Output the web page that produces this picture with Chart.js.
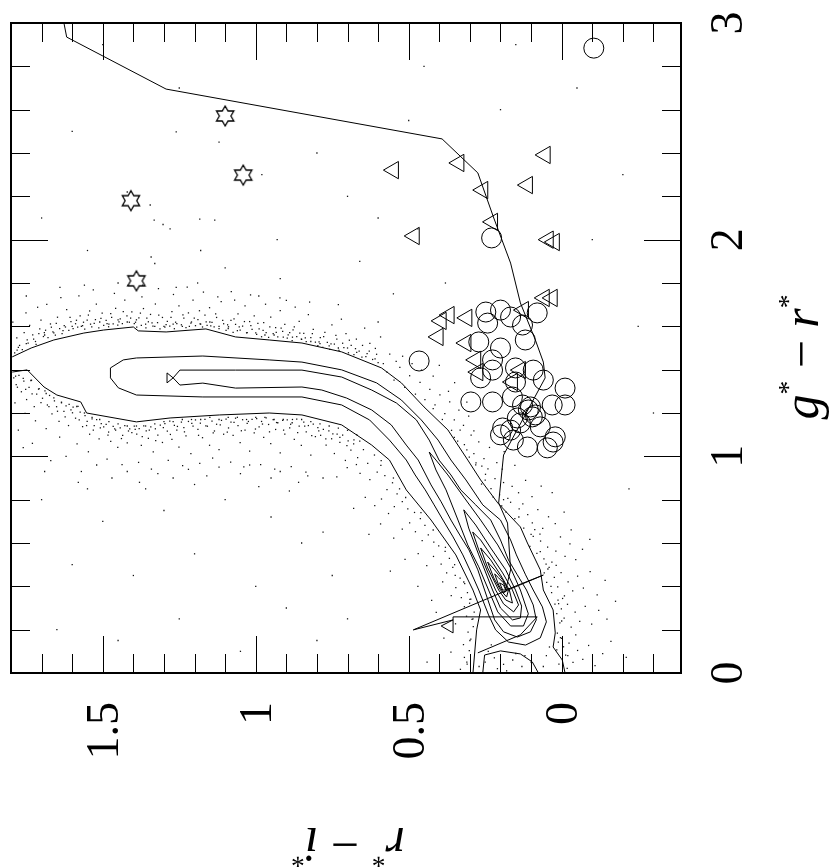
<!DOCTYPE html>
<html>
<head>
<meta charset="utf-8">
<script src="https://cdn.jsdelivr.net/npm/chart.js@4.4.1/dist/chart.umd.min.js"></script>
<style>
  html, body { margin: 0; padding: 0; background: #fff; }
  canvas { display: block; }
</style>
</head>
<body>
<canvas id="cmd" width="833" height="867"></canvas>
<script>
// r*-i* runs along x (reversed), g*-r* along y; the whole diagram is turned on its side
const riLabels = [1.5, 1, 0.5, 0];
const grLabels = [0, 1, 2, 3];

// stellar locus: outermost density contour, two open edges plus the patch at the bottom
const outerUpper = [[1.796,1.459],[1.734,1.5],[1.66,1.537],[1.562,1.569],[1.497,1.583],[1.4,1.597],[1.384,1.579],[1.293,1.574],[1.163,1.588],[1.066,1.551],[0.956,1.537],[0.849,1.523],[0.719,1.482],[0.589,1.408],[0.524,1.339],[0.45,1.228],[0.372,1.122],[0.307,0.983],[0.265,0.891],[0.209,0.785],[0.135,0.674],[0.112,0.6],[0.07,0.476],[0.06,0.383],[0.028,0.291],[0.021,0.185],[0.028,0.12],[-0.002,0.06],[-0.011,0]];
const outerLower = [[1.796,1.389],[1.747,1.399],[1.692,1.32],[1.65,1.283],[1.572,1.251],[1.553,1.2],[1.39,1.159],[1.28,1.177],[1.118,1.191],[0.956,1.2],[0.849,1.191],[0.719,1.145],[0.621,1.052],[0.563,0.983],[0.508,0.845],[0.427,0.706],[0.346,0.545],[0.29,0.383],[0.265,0.291],[0.278,0.199],[0.29,0]];
const basePatch = [[0.258,0],[0.252,0.083],[0.2,0.102],[0.135,0.088],[0.096,0.051],[0.076,0]];

// inner contours, closed loops
const level2 = [[1.475,1.408],[1.433,1.445],[1.39,1.454],[1.173,1.463],[0.956,1.445],[0.849,1.435],[0.719,1.399],[0.605,1.339],[0.524,1.26],[0.459,1.168],[0.404,1.075],[0.362,0.983],[0.313,0.891],[0.258,0.776],[0.2,0.706],[0.167,0.614],[0.148,0.545],[0.118,0.453],[0.093,0.383],[0.063,0.305],[0.05,0.236],[0.07,0.162],[0.118,0.129],[0.174,0.143],[0.216,0.199],[0.239,0.268],[0.271,0.383],[0.297,0.466],[0.323,0.545],[0.355,0.628],[0.388,0.706],[0.417,0.776],[0.446,0.845],[0.479,0.914],[0.508,0.983],[0.563,1.075],[0.628,1.168],[0.719,1.237],[0.849,1.274],[1.173,1.274],[1.39,1.283],[1.449,1.316],[1.475,1.362]];
const level3 = [[1.248,1.398],[1.066,1.398],[0.849,1.398],[0.719,1.366],[0.621,1.306],[0.54,1.246],[0.475,1.168],[0.433,1.075],[0.401,0.983],[0.362,0.914],[0.33,0.845],[0.281,0.776],[0.232,0.706],[0.2,0.614],[0.174,0.522],[0.145,0.453],[0.115,0.383],[0.093,0.314],[0.083,0.245],[0.102,0.19],[0.145,0.166],[0.19,0.19],[0.219,0.245],[0.252,0.383],[0.274,0.476],[0.303,0.568],[0.333,0.637],[0.362,0.706],[0.394,0.79],[0.427,0.868],[0.469,0.983],[0.508,1.052],[0.557,1.145],[0.621,1.214],[0.703,1.269],[0.784,1.306],[0.849,1.32],[1.066,1.315],[1.173,1.338],[1.248,1.329],[1.27,1.362],[1.29,1.339],[1.29,1.385],[1.27,1.362]];
const level4 = [[0.433,1.02],[0.411,0.937],[0.378,0.845],[0.339,0.706],[0.307,0.591],[0.271,0.49],[0.239,0.383],[0.209,0.282],[0.167,0.217],[0.125,0.217],[0.109,0.273],[0.135,0.383],[0.167,0.485],[0.209,0.591],[0.265,0.706],[0.32,0.812],[0.372,0.914],[0.411,0.983]];
const level5 = [[0.32,0.753],[0.304,0.669],[0.271,0.545],[0.226,0.383],[0.2,0.3],[0.161,0.245],[0.135,0.254],[0.131,0.309],[0.151,0.383],[0.183,0.476],[0.232,0.577],[0.281,0.683]];
const level6 = [[0.291,0.651],[0.271,0.568],[0.242,0.466],[0.216,0.383],[0.19,0.319],[0.157,0.282],[0.141,0.314],[0.161,0.383],[0.193,0.462],[0.232,0.545],[0.265,0.614]];
const level7 = [[0.265,0.577],[0.242,0.485],[0.206,0.383],[0.183,0.337],[0.161,0.323],[0.171,0.383],[0.2,0.453],[0.232,0.522]];
const level8 = [[0.242,0.512],[0.222,0.439],[0.2,0.383],[0.18,0.351],[0.174,0.383],[0.193,0.43],[0.219,0.476]];
const level9 = [[0.219,0.457],[0.206,0.406],[0.19,0.37],[0.18,0.379],[0.19,0.416],[0.206,0.439]];
const level10 = [[0.203,0.416],[0.193,0.383],[0.183,0.383],[0.19,0.406]];

// model track
const track = [[1.627,3.0],[1.618,2.935],[1.293,2.695],[0.391,2.465],[0.274,2.308],[0.222,2.1],[0.167,1.892],[0.135,1.708],[0.086,1.537],[0.06,1.435],[0.054,1.362],[0.19,1.006],[0.206,0.785],[0.177,0.692],[0.167,0.476],[0.183,0.383],[0.06,0.452],[0.485,0.199],[0.355,0.245],[0.394,0.217],[0.355,0.185],[0.355,0.259],[0.08,0.259],[0.135,0.176],[0.274,0.093]];

// candidate objects
const triangles = [[0.55,2.321],[0.336,2.354],[0.054,2.391],[0.258,2.229],[0.112,2.252],[0.226,2.082],[0.482,2.017],[0.044,2.0],[0.024,1.989],[0.057,1.731],[0.031,1.731],[0.125,1.675],[0.394,1.625],[0.368,1.652],[0.31,1.639],[0.404,1.551],[0.313,1.523],[0.281,1.445],[0.274,1.389],[0.135,1.398],[0.161,1.343]];
const circles = [[-0.105,2.884],[0.466,1.44],[0.229,2.008],[0.248,1.666],[0.2,1.675],[0.167,1.643],[0.128,1.606],[0.08,1.662],[0.119,1.537],[0.242,1.615],[0.271,1.528],[0.2,1.5],[0.226,1.445],[0.226,1.398],[0.265,1.362],[0.151,1.408],[0.151,1.343],[0.093,1.398],[0.06,1.352],[0.297,1.251],[0.226,1.251],[0.161,1.274],[0.102,1.228],[0.096,1.182],[0.031,1.237],[-0.011,1.315],[-0.011,1.237],[0.145,1.177],[0.193,1.131],[0.135,1.154],[0.07,1.136],[0.021,1.09],[0.028,1.066],[0.2,1.099],[0.158,1.075],[0.112,1.043],[0.047,1.039],[0.109,1.214],[0.128,1.237],[0.086,1.191],[0.167,1.121]];
const stars = [[1.1,2.571],[1.041,2.298],[1.408,2.18],[1.39,1.81]];

// field stars above the blue edge of the locus
const dotsUpper = [
  [1.78,1.49],[1.75,1.52],[1.72,1.53],[1.69,1.56],[1.66,1.57],[1.63,1.58],[1.6,1.6],[1.57,1.6],[1.54,1.61],[1.51,1.62],[1.48,1.61],[1.45,1.63],[1.42,1.62],[1.39,1.63],[1.36,1.61],[1.33,1.6],[1.3,1.6],[1.27,1.61],[1.24,1.6],[1.21,1.62],[1.18,1.61],[1.15,1.62],[1.12,1.6],[1.09,1.59],[1.06,1.58],[1.03,1.57],[1.0,1.57],[0.97,1.56],[0.94,1.56],[0.91,1.55],[0.88,1.55],[0.85,1.54],[0.82,1.53],[0.79,1.52],[0.76,1.51],[0.73,1.5],[0.7,1.5],[0.67,1.48],[0.64,1.46],[0.61,1.45],
  [1.788,1.478],[1.772,1.512],[1.781,1.547],[1.763,1.493],[1.757,1.571],[1.744,1.523],[1.739,1.604],[1.726,1.541],[1.718,1.517],[1.709,1.566],[1.702,1.629],[1.794,1.619],[1.751,1.662],[1.713,1.688],
  [1.694,1.553],[1.687,1.582],[1.679,1.548],[1.671,1.611],[1.663,1.574],[1.655,1.559],[1.648,1.642],[1.641,1.589],[1.633,1.566],[1.626,1.603],[1.618,1.677],[1.611,1.581],[1.604,1.622],[1.683,1.701],[1.637,1.733],
  [1.597,1.589],[1.589,1.612],[1.582,1.596],[1.574,1.648],[1.566,1.603],[1.559,1.587],[1.551,1.629],[1.543,1.671],[1.536,1.598],[1.528,1.614],[1.521,1.702],[1.513,1.593],[1.506,1.637],[1.578,1.741],[1.531,1.768],
  [1.497,1.604],[1.489,1.627],[1.481,1.598],[1.474,1.659],[1.466,1.611],[1.458,1.683],[1.451,1.606],[1.443,1.634],[1.436,1.612],[1.428,1.721],[1.421,1.648],[1.413,1.619],[1.405,1.667],[1.462,1.752],[1.418,1.789],
  [1.397,1.612],[1.389,1.596],[1.382,1.639],[1.374,1.604],[1.367,1.682],[1.359,1.593],[1.351,1.621],[1.344,1.655],[1.336,1.601],[1.328,1.703],[1.321,1.617],[1.313,1.588],[1.305,1.641],[1.372,1.736],[1.318,1.774],
  [1.297,1.596],[1.289,1.623],[1.281,1.601],[1.274,1.668],[1.266,1.589],[1.258,1.612],[1.251,1.694],[1.243,1.607],[1.235,1.638],[1.228,1.594],[1.22,1.662],[1.212,1.615],[1.205,1.721],[1.269,1.747],[1.224,1.781],
  [1.197,1.603],[1.189,1.631],[1.182,1.611],[1.174,1.597],[1.166,1.652],[1.159,1.604],[1.151,1.686],[1.143,1.618],[1.136,1.598],[1.128,1.641],[1.12,1.589],[1.113,1.714],[1.105,1.612],[1.171,1.758],[1.124,1.736],
  [1.097,1.581],[1.089,1.598],[1.081,1.627],[1.074,1.572],[1.066,1.609],[1.058,1.658],[1.051,1.583],[1.043,1.601],[1.035,1.694],[1.028,1.571],[1.02,1.622],[1.012,1.586],[1.005,1.648],[1.069,1.721],[1.017,1.745],
  [0.997,1.563],[0.989,1.588],[0.981,1.552],[0.974,1.617],[0.966,1.571],[0.958,1.549],[0.951,1.643],[0.943,1.566],[0.935,1.594],[0.928,1.551],[0.92,1.672],[0.912,1.577],[0.905,1.609],[0.968,1.702],[0.921,1.731],
  [0.897,1.546],[0.889,1.571],[0.881,1.534],[0.874,1.598],[0.866,1.552],[0.858,1.623],[0.851,1.541],[0.843,1.567],[0.835,1.529],[0.828,1.654],[0.82,1.548],[0.812,1.586],[0.805,1.527],[0.871,1.689],[0.824,1.712],
  [0.797,1.511],[0.789,1.548],[0.781,1.503],[0.774,1.572],[0.766,1.526],[0.758,1.494],[0.751,1.607],[0.743,1.518],[0.735,1.541],[0.728,1.489],[0.72,1.633],[0.712,1.502],[0.705,1.566],
  [0.697,1.478],[0.688,1.512],[0.679,1.469],[0.671,1.541],[0.662,1.486],[0.653,1.458],[0.644,1.592],[0.636,1.474],[0.627,1.521],[0.618,1.447],[0.609,1.498],[0.6,1.433],[0.592,1.551],[0.583,1.428],
  [1.776,1.503],[1.747,1.538],[1.729,1.561],[1.706,1.588],[1.691,1.571],[1.668,1.596],[1.652,1.614],[1.622,1.597],[1.607,1.641],[1.586,1.628],[1.563,1.619],[1.547,1.652],[1.524,1.631],[1.502,1.661],[1.486,1.612],[1.471,1.641],[1.447,1.621],[1.433,1.668],[1.409,1.638],[1.393,1.619],[1.377,1.661],[1.356,1.638],[1.339,1.616],[1.317,1.652],[1.293,1.608],[1.277,1.641],[1.262,1.619],[1.238,1.653],[1.217,1.6],[1.201,1.638],
  [1.184,1.672],[1.162,1.621],[1.147,1.602],[1.131,1.658],[1.108,1.627],[1.092,1.607],[1.071,1.634],[1.054,1.597],[1.037,1.622],[1.016,1.603],[0.993,1.614],[0.976,1.581],[0.954,1.598],[0.933,1.572],[0.917,1.592],[0.894,1.561],[0.878,1.584],[0.856,1.569],[0.838,1.547],[0.815,1.566],[0.793,1.528],[0.778,1.553],[0.754,1.519],[0.738,1.558],[0.716,1.522],[0.694,1.536],[0.674,1.497],[0.651,1.512],[0.629,1.486],[0.605,1.471],
  [1.75,1.74],[1.64,1.78],[1.56,1.79],[1.45,1.8],[1.37,1.79],[1.26,1.78],[1.19,1.8],[1.08,1.76],[0.99,1.74],[0.9,1.72]
];

// field stars below the red edge of the locus
const dotsLower = [
  [1.785,1.37],[1.76,1.36],[1.735,1.35],[1.71,1.31],[1.685,1.29],[1.66,1.27],[1.635,1.25],[1.61,1.24],[1.585,1.23],[1.56,1.2],[1.535,1.18],[1.51,1.17],[1.48,1.16],[1.45,1.15],[1.42,1.14],[1.39,1.14],[1.36,1.14],[1.33,1.15],[1.3,1.16],[1.27,1.16],[1.24,1.17],[1.21,1.17],[1.18,1.17],[1.15,1.18],[1.12,1.17],[1.09,1.18],[1.06,1.18],[1.03,1.17],[1.0,1.18],[0.97,1.18],[0.94,1.17],[0.91,1.17],[0.88,1.17],[0.85,1.17],[0.82,1.16],[0.79,1.15],[0.76,1.14],[0.73,1.13],[0.7,1.12],[0.67,1.1],
  [1.791,1.362],[1.783,1.331],[1.774,1.374],[1.766,1.298],[1.758,1.347],[1.749,1.262],[1.741,1.318],[1.733,1.351],[1.724,1.229],[1.716,1.287],[1.708,1.313],[1.787,1.247],[1.754,1.198],[1.72,1.164],[1.776,1.121],
  [1.697,1.268],[1.689,1.302],[1.681,1.237],[1.674,1.281],[1.666,1.196],[1.658,1.256],[1.651,1.229],[1.643,1.161],[1.635,1.247],[1.627,1.208],[1.62,1.233],[1.612,1.142],[1.604,1.214],[1.685,1.128],[1.641,1.089],
  [1.597,1.227],[1.589,1.176],[1.581,1.231],[1.574,1.204],[1.566,1.137],[1.558,1.188],[1.551,1.161],[1.543,1.102],[1.535,1.173],[1.528,1.142],[1.52,1.169],[1.512,1.081],[1.505,1.151],[1.584,1.058],[1.547,1.021],
  [1.497,1.136],[1.489,1.148],[1.481,1.112],[1.474,1.069],[1.466,1.138],[1.458,1.121],[1.451,1.041],[1.443,1.131],[1.435,1.097],[1.428,1.142],[1.42,1.062],[1.412,1.127],[1.405,1.109],[1.486,0.987],[1.437,0.962],
  [1.397,1.139],[1.389,1.102],[1.381,1.128],[1.374,1.051],[1.366,1.141],[1.358,1.118],[1.351,1.083],[1.343,1.136],[1.335,1.021],[1.328,1.127],[1.32,1.098],[1.312,1.144],[1.305,1.064],[1.383,0.972],[1.341,0.941],
  [1.297,1.151],[1.289,1.116],[1.281,1.162],[1.274,1.078],[1.266,1.143],[1.258,1.121],[1.251,1.042],[1.243,1.158],[1.235,1.132],[1.228,1.094],[1.22,1.161],[1.212,1.012],[1.205,1.139],[1.286,0.981],[1.239,0.957],
  [1.197,1.168],[1.189,1.124],[1.181,1.153],[1.174,1.086],[1.166,1.171],[1.158,1.139],[1.151,1.051],[1.143,1.162],[1.135,1.117],[1.128,1.148],[1.12,1.031],[1.112,1.166],[1.105,1.102],[1.183,0.968],[1.141,0.992],
  [1.097,1.172],[1.089,1.131],[1.081,1.158],[1.074,1.097],[1.066,1.176],[1.058,1.142],[1.051,1.063],[1.043,1.169],[1.035,1.121],[1.028,1.152],[1.02,1.024],[1.012,1.171],[1.005,1.108],[1.082,0.973],[1.039,0.951],
  [0.997,1.174],[0.989,1.136],[0.981,1.161],[0.974,1.088],[0.966,1.178],[0.958,1.147],[0.951,1.059],[0.943,1.169],[0.935,1.124],[0.928,1.155],[0.92,1.016],[0.912,1.166],[0.905,1.103],[0.984,0.962],[0.938,0.941],
  [0.897,1.168],[0.889,1.131],[0.881,1.155],[0.874,1.078],[0.866,1.172],[0.858,1.139],[0.851,1.051],[0.843,1.158],[0.835,1.113],[0.828,1.142],[0.82,1.006],[0.812,1.149],[0.805,1.091],[0.884,0.953],[0.836,0.927],
  [0.797,1.133],[0.788,1.097],[0.779,1.124],[0.77,1.052],[0.761,1.118],[0.752,1.081],[0.743,1.013],[0.734,1.102],[0.725,1.064],[0.716,1.098],[0.707,0.981],[0.698,1.071],[0.689,1.029],[0.68,1.058],[0.671,0.962],
  [1.779,1.319],[1.752,1.309],[1.731,1.288],[1.702,1.248],[1.676,1.229],[1.648,1.208],[1.623,1.182],[1.599,1.201],[1.577,1.168],[1.553,1.142],[1.531,1.121],[1.508,1.131],[1.483,1.098],[1.461,1.127],[1.439,1.082],[1.416,1.117],[1.394,1.124],[1.371,1.091],[1.348,1.121],[1.327,1.073],[1.302,1.132],[1.279,1.101],[1.256,1.138],[1.233,1.113],
  [1.209,1.152],[1.187,1.097],[1.163,1.141],[1.139,1.108],[1.116,1.145],[1.093,1.112],[1.071,1.157],[1.047,1.118],[1.024,1.161],[1.001,1.126],[0.978,1.149],[0.955,1.113],[0.932,1.156],[0.909,1.121],[0.886,1.148],[0.863,1.109],[0.84,1.139],[0.817,1.096],[0.794,1.118],[0.771,1.081],[0.748,1.104],[0.725,1.087],[0.702,1.049],[0.679,1.076],
  [1.73,1.06],[1.62,1.0],[1.52,0.96],[1.42,0.93],[1.32,0.92],[1.22,0.94],[1.12,0.95],[1.02,0.96],[0.92,0.93],[0.83,0.91],[1.69,0.93],[1.58,0.88],[1.36,0.85],[1.2,0.87],[0.99,0.86],[0.89,0.84],
  [1.76,1.04],[1.67,0.98],[1.57,0.93],[1.47,0.9],[1.38,0.88],[1.27,0.9],[1.16,0.91],[1.05,0.92],[0.95,0.9],[0.86,0.88],[0.78,0.9]
];

// field stars on both flanks of the bend and near the bottom of the locus
const dotsBend = [
  [0.351,1.087],[0.332,1.121],[0.318,1.054],[0.296,1.098],[0.287,1.012],[0.271,1.067],[0.254,0.989],[0.236,1.041],[0.212,0.971],[0.281,0.961],[0.188,1.022],[0.153,0.958],[0.302,0.996],[0.261,0.955],
  [0.262,0.872],[0.249,0.917],[0.231,0.851],[0.218,0.897],[0.203,0.823],[0.19,0.879],[0.176,0.806],[0.162,0.861],[0.141,0.832],[0.118,0.889],[0.097,0.814],[0.067,0.862],[0.241,0.942],[0.224,0.812],[0.031,0.833],[0.194,0.941],
  [0.196,0.771],[0.182,0.742],[0.167,0.788],[0.153,0.712],[0.139,0.758],[0.124,0.669],[0.111,0.731],[0.096,0.693],[0.078,0.754],[0.062,0.668],[0.043,0.721],[0.021,0.689],[-0.008,0.742],[-0.031,0.661],[0.127,0.781],[0.088,0.662],
  [0.104,0.584],[0.093,0.631],[0.081,0.552],[0.069,0.609],[0.058,0.527],[0.046,0.581],[0.032,0.512],[0.019,0.563],[0.004,0.628],[-0.011,0.538],[-0.027,0.596],[-0.046,0.523],[-0.068,0.571],[0.071,0.641],[0.051,0.503],[-0.092,0.617],
  [0.057,0.462],[0.049,0.418],[0.041,0.487],[0.033,0.371],[0.024,0.441],[0.013,0.398],[0.002,0.463],[-0.009,0.356],[-0.021,0.421],[-0.036,0.379],[-0.052,0.447],[-0.071,0.392],[-0.093,0.468],[-0.116,0.361],[0.018,0.497],[-0.142,0.428],
  [0.022,0.318],[0.016,0.274],[0.012,0.336],[0.006,0.231],[0.001,0.296],[-0.008,0.253],[-0.019,0.317],[-0.031,0.212],[-0.044,0.281],[-0.059,0.238],[-0.077,0.307],[-0.098,0.226],[-0.121,0.289],[-0.148,0.249],[-0.003,0.344],[-0.176,0.331],
  [0.014,0.184],[0.011,0.142],[0.016,0.107],[0.004,0.163],[-0.006,0.121],[-0.013,0.082],[-0.024,0.138],[-0.037,0.049],[-0.052,0.104],[-0.069,0.063],[-0.088,0.127],[-0.109,0.034],[-0.134,0.089],[-0.161,0.146],[-0.018,0.021],[-0.046,0.176],[-0.211,0.072],[0.009,0.041],
  [0.42,1.22],[0.39,1.17],[0.36,1.12],[0.34,1.07],[0.31,1.03],[0.28,0.97],[0.25,0.89],[0.19,0.8],[0.14,0.72],[0.1,0.64],[0.07,0.56],[0.045,0.48],[0.035,0.4],[0.01,0.32],[0.0,0.24],[0.0,0.16],[-0.02,0.08],
  [0.571,1.389],[0.548,1.352],[0.529,1.411],[0.513,1.318],[0.497,1.372],[0.478,1.287],[0.463,1.341],[0.447,1.262],[0.431,1.309],[0.414,1.238],[0.398,1.284],[0.382,1.197],[0.366,1.251],[0.351,1.168],[0.336,1.213],[0.321,1.143],[0.304,1.186],[0.287,1.117],[0.562,1.472],[0.541,1.438],[0.52,1.462],[0.489,1.428],[0.458,1.398],[0.42,1.37],[0.4,1.42],[0.37,1.3],[0.35,1.34],[0.31,1.25],
  [0.648,1.031],[0.667,0.994],[0.612,1.006],[0.634,0.967],[0.591,0.958],[0.659,0.921],[0.603,0.927],[0.578,0.911],[0.701,0.948],[0.627,0.892],[0.735,0.905],
  [0.553,0.878],[0.571,0.846],[0.538,0.827],[0.589,0.803],[0.521,0.791],[0.547,0.768],[0.611,0.772],[0.503,0.758],[0.566,0.736],[0.642,0.811],[0.68,0.76],[0.53,0.85],
  [0.481,0.741],[0.462,0.712],[0.497,0.693],[0.447,0.681],[0.478,0.652],[0.436,0.638],[0.521,0.664],[0.456,0.611],[0.549,0.623],[0.418,0.604],[0.592,0.688],[0.63,0.64],
  [0.402,0.587],[0.381,0.561],[0.419,0.538],[0.367,0.529],[0.394,0.503],[0.356,0.487],[0.441,0.496],[0.376,0.462],[0.469,0.551],[0.348,0.451],[0.512,0.524],[0.56,0.47],
  [0.332,0.438],[0.317,0.412],[0.346,0.394],[0.308,0.371],[0.328,0.348],[0.301,0.322],[0.361,0.357],[0.318,0.306],[0.389,0.421],[0.297,0.341],[0.425,0.335],[0.47,0.4],
  [0.286,0.281],[0.293,0.247],[0.311,0.262],[0.289,0.214],[0.306,0.189],[0.297,0.156],[0.321,0.131],[0.302,0.103],[0.318,0.072],[0.309,0.041],[0.331,0.017],[0.347,0.227],[0.362,0.096],[0.385,0.161],[0.44,0.05],[0.41,0.28],
  [0.66,1.07],[0.59,0.98],[0.55,0.9],[0.51,0.81],[0.46,0.74],[0.42,0.66],[0.38,0.58],[0.35,0.5],[0.32,0.42],[0.3,0.34],[0.29,0.25],[0.3,0.15],[0.31,0.05],
  [0.25,0.05],[0.22,0.07],[0.19,0.04],[0.16,0.06],[0.13,0.03],[0.1,0.05],[0.21,0.02],[0.15,0.09],[0.24,0.1],[0.12,0.08],[0.18,0.01],[0.27,0.03],[0.05,0.08],[0.06,0.03],[0.04,0.12],[0.23,0.13]
];

// scattered field stars away from the locus
const dotsSparse = [
  [1.5,2.9],[1.25,2.7],[1.12,2.45],[0.98,2.3],[1.42,2.22],[1.28,2.05],[1.55,1.95],[1.18,1.95],[1.1,1.87],[0.93,2.0],[0.8,2.4],[0.7,2.2],[0.6,2.1],[0.66,1.9],[0.55,1.75],[0.73,1.7],[0.92,1.82],[1.33,1.89],[1.7,2.1],[1.6,2.5],[0.5,2.55],[0.45,2.8],[0.2,2.6],[0.15,2.9],[-0.05,2.7],[-0.2,2.3],[-0.1,2.0],[-0.25,1.6],[-0.3,1.2],[-0.22,0.85],[0.38,1.8],[0.47,2.05],[0.6,1.62],
  [1.26,2.497],[1.345,2.16],[1.332,2.09],[1.303,2.07],[1.183,2.095],[1.134,2.09],[1.342,1.92],
  [1.7,0.8],[1.5,0.7],[1.3,0.75],[1.1,0.8],[0.95,0.72],[0.85,0.6],[1.6,0.5],[1.4,0.45],[1.2,0.55],[1.0,0.4],[0.9,0.3],[0.75,0.45],[1.65,0.2],[1.45,0.15],[1.25,0.25],[1.05,0.1],[0.8,0.15],[0.7,0.25],[1.55,0.85],[0.78,0.65]
];

const pts = arr => arr.map(([x, y]) => ({ x, y }));
const closed = arr => pts(arr.concat([arr[0]]));

// six-pointed outline star used for one class of objects
function hexStar(r) {
  const s = Math.ceil(r * 2 + 4);
  const c = document.createElement('canvas');
  c.width = c.height = s;
  const g = c.getContext('2d');
  g.translate(s / 2, s / 2);
  g.beginPath();
  for (let k = 0; k < 12; k++) {
    const rr = k % 2 ? r / Math.sqrt(3) : r;
    const a = -Math.PI / 2 + k * Math.PI / 6;
    g.lineTo(rr * Math.cos(a), rr * Math.sin(a));
  }
  g.closePath();
  g.lineWidth = 1.3;
  g.strokeStyle = '#000';
  g.stroke();
  return c;
}

const lineSet = (data) => ({
  data, showLine: true, borderColor: '#000', borderWidth: 1,
  pointRadius: 0, tension: 0, fill: false
});
const dotSet = (data) => ({
  data, pointStyle: 'rect', pointRadius: 0.9, backgroundColor: '#111', borderWidth: 0
});

// draws the box, inward ticks, rotated numbers and axis titles
const frame = {
  id: 'frame',
  afterDatasetsDraw(chart) {
    const { ctx, chartArea: a, scales: { x, y } } = chart;
    ctx.save();
    ctx.strokeStyle = '#000';
    ctx.fillStyle = '#000';
    ctx.lineWidth = 1;
    ctx.beginPath();
    for (let i = -3; i <= 17; i++) {
      const px = Math.round(x.getPixelForValue(i / 10)) + 0.5;
      const len = i % 5 === 0 ? 37 : 19;
      ctx.moveTo(px, a.top); ctx.lineTo(px, a.top + len);
      ctx.moveTo(px, a.bottom); ctx.lineTo(px, a.bottom - len);
    }
    for (let i = 1; i < 15; i++) {
      const py = Math.round(y.getPixelForValue(i / 5)) + 0.5;
      const len = i % 5 === 0 ? 37 : 19;
      ctx.moveTo(a.left, py); ctx.lineTo(a.left + len, py);
      ctx.moveTo(a.right, py); ctx.lineTo(a.right - len, py);
    }
    ctx.stroke();
    ctx.lineWidth = 2;
    ctx.strokeRect(a.left, a.top, a.right - a.left, a.bottom - a.top);

    const size = 46;
    const cap = size * 0.66;
    ctx.font = size + 'px "Liberation Serif"';
    ctx.textBaseline = 'alphabetic';
    riLabels.forEach(v => {
      ctx.save();
      ctx.translate(x.getPixelForValue(v) + cap / 2, a.bottom + 29);
      ctx.rotate(-Math.PI / 2);
      ctx.textAlign = 'right';
      ctx.fillText(String(v), 0, 0);
      ctx.restore();
    });
    grLabels.forEach(v => {
      ctx.save();
      ctx.translate(a.right + 31 + cap, y.getPixelForValue(v));
      ctx.rotate(-Math.PI / 2);
      ctx.textAlign = 'center';
      ctx.fillText(String(v), 0, 0);
      ctx.restore();
    });

    drawTitle(ctx, [['g'], ['*', 1], [' \u2212 '], ['r'], ['*', 1]], a.right + 137, 357, -Math.PI / 2, 50);
    drawTitle(ctx, [['r'], ['*', 1], [' \u2212 '], ['i'], ['*', 1]], 348, a.bottom + 155, Math.PI, 50);
    ctx.restore();
  }
};

function drawTitle(ctx, parts, cx, cy, angle, size) {
  const font = (p) => p[1] ? (size * 0.55) + 'px "Liberation Serif"'
    : (p[0] === ' \u2212 ' ? size + 'px "Liberation Serif"' : 'italic ' + size + 'px "Liberation Serif"');
  let total = 0;
  parts.forEach(p => { ctx.font = font(p); total += ctx.measureText(p[0]).width; });
  ctx.save();
  ctx.translate(cx, cy);
  ctx.rotate(angle);
  ctx.textAlign = 'left';
  let pos = -total / 2;
  parts.forEach(p => {
    ctx.font = font(p);
    ctx.fillText(p[0], pos, p[1] ? -size * 0.42 : 0);
    pos += ctx.measureText(p[0]).width;
  });
  ctx.restore();
}

new Chart(document.getElementById('cmd'), {
  type: 'scatter',
  data: {
    datasets: [
      dotSet(pts(dotsUpper)),
      dotSet(pts(dotsLower)),
      dotSet(pts(dotsBend)),
      dotSet(pts(dotsSparse)),
      lineSet(pts(outerUpper)),
      lineSet(pts(outerLower)),
      lineSet(pts(basePatch)),
      lineSet(closed(level2)),
      lineSet(closed(level3)),
      lineSet(closed(level4)),
      lineSet(closed(level5)),
      lineSet(closed(level6)),
      lineSet(closed(level7)),
      lineSet(closed(level8)),
      lineSet(closed(level9)),
      lineSet(closed(level10)),
      lineSet(pts(track)),
      { data: pts(triangles), pointStyle: 'triangle', rotation: -90, pointRadius: 10,
        borderColor: '#000', borderWidth: 1, backgroundColor: 'rgba(0,0,0,0)' },
      { data: pts(circles), pointStyle: 'circle', pointRadius: 10,
        borderColor: '#000', borderWidth: 1, backgroundColor: 'rgba(0,0,0,0)' },
      { data: pts(stars), pointStyle: hexStar(10) }
    ]
  },
  options: {
    responsive: false,
    devicePixelRatio: 1,
    animation: false,
    layout: { padding: { left: 8, top: 23, right: 152, bottom: 194 } },
    plugins: { legend: { display: false }, tooltip: { enabled: false } },
    scales: {
      x: { type: 'linear', reverse: true, min: -0.39, max: 1.8, display: false },
      y: { type: 'linear', min: 0, max: 3, display: false }
    }
  },
  plugins: [frame]
});
</script>
</body>
</html>
